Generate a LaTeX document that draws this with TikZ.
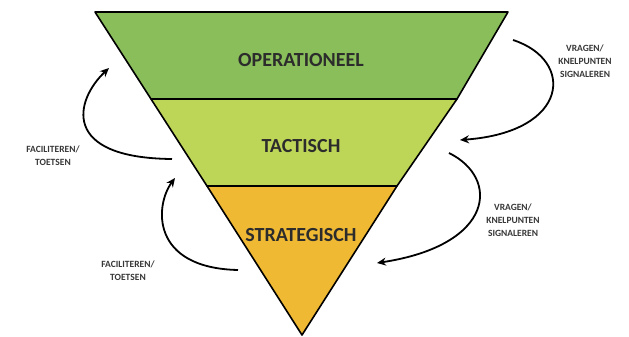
\documentclass[tikz,border=0pt]{standalone}
\usepackage{fontspec}
\setmainfont{Carlito}
\usepackage{tikz}
\usetikzlibrary{arrows.meta,positioning,calc}

\definecolor{opgreen}{RGB}{137,190,90}
\definecolor{tacgreen}{RGB}{190,214,88}
\definecolor{strorange}{RGB}{240,185,52}
\definecolor{txtgray}{RGB}{55,55,55}

\begin{document}
\begin{tikzpicture}[x=1pt,y=-1pt,
	layer/.style={draw=black,line width=1.6pt,line join=round},
	layertext/.style={font=\fontsize{20}{22}\selectfont\bfseries,text=txtgray!80!black},
	side/.style={font=\fontsize{9.5}{13}\selectfont\bfseries,text=txtgray,align=center},
	flow/.style={line width=1.8pt,-{Stealth[length=9pt,width=8pt]}}]
	\useasboundingbox (0,0) rectangle (629,337);

	% the three layers of the funnel
	\filldraw[layer,fill=opgreen  ] (95,12 ) -- (508,12 ) -- (457,99 ) -- (151,99 ) -- cycle;
	\filldraw[layer,fill=tacgreen ] (151,99) -- (457,99 ) -- (397,186) -- (207,186) -- cycle;
	\filldraw[layer,fill=strorange] (207,186) -- (397,186) -- (302,335) -- cycle;

	\node[layertext] (op ) at (301,60 ) {OPERATIONEEL};
	\node[layertext] (tac) at (301,146) {TACTISCH};
	\node[layertext] (str) at (301,235) {STRATEGISCH};

	% side labels
	\node[side] (fac1) at (53 ,156) {FACILITEREN/\\TOETSEN};
	\node[side] (fac2) at (128,271) {FACILITEREN/\\TOETSEN};
	\node[side] (vr1 ) at (585,61 ) {VRAGEN/\\KNELPUNTEN\\SIGNALEREN};
	\node[side] (vr2 ) at (513,220) {VRAGEN/\\KNELPUNTEN\\SIGNALEREN};

	% arrow ends
	\coordinate (f1a) at (172,159);  \coordinate (f1b) at (109,68 );
	\coordinate (f2a) at (238,270);  \coordinate (f2b) at (175,178);
	\coordinate (v1a) at (513,40 );  \coordinate (v1b) at (460,140);
	\coordinate (v2a) at (449,153);  \coordinate (v2b) at (377,263);

	\draw[flow] (f1a) .. controls (60,158 ) and (75,100 ) .. (f1b);
	\draw[flow] (f2a) .. controls (150,268) and (155,205) .. (f2b);
	\draw[flow] (v1a) .. controls (575,60 ) and (570,132) .. (v1b);
	\draw[flow] (v2a) .. controls (500,178) and (495,245) .. (v2b);
\end{tikzpicture}
\end{document}
